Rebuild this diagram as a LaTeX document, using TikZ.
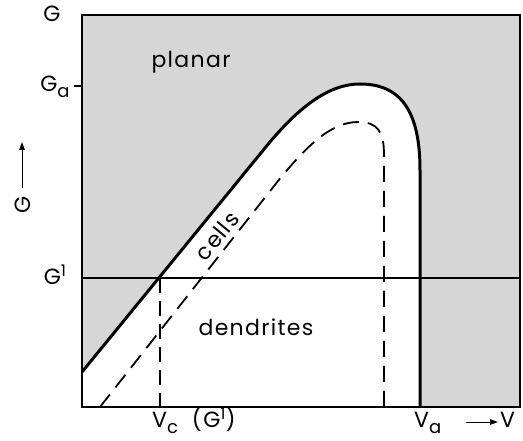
\documentclass[tikz,border=0pt]{standalone}
\usepackage{fontspec}
\setmainfont{Poppins}[LetterSpace=6]
\usetikzlibrary{arrows.meta}
\definecolor{bggray}{RGB}{214,214,214}
\newcommand{\lowsub}[1]{\raisebox{-0.25em}{\fontsize{18}{18}\selectfont #1}}
\newcommand{\highsup}[1]{\raisebox{0.4em}{\fontsize{16}{16}\selectfont #1}}
\begin{document}
\begin{tikzpicture}[x=1pt,y=-1pt,
  lbl/.style={font=\fontsize{22}{22}\selectfont, inner sep=0pt, anchor=base},
  boxline/.style={line width=1.6pt},
  gline/.style={line width=1.3pt},
  thickcurve/.style={line width=3pt, line join=round},
  dashcurve/.style={line width=1.8pt, dash pattern=on 16pt off 9pt},
  axarrow/.style={line width=1pt, -{Triangle[length=8pt,width=5.5pt]}}]
\useasboundingbox (0,0) rectangle (523,441);
\coordinate (TL) at (82,15);
\coordinate (BR) at (520,407);
\coordinate (BL) at (82,407);
\coordinate (G1L) at (82,278);
\coordinate (G1R) at (520,278);
\coordinate (S0) at (82,372);
\coordinate (S1) at (265,148);
\coordinate (Speak) at (360,84);
\coordinate (S2) at (420,170);
\coordinate (S3) at (420,407);
\coordinate (D0) at (100,407);
\coordinate (D1) at (278,181);
\coordinate (Dpeak) at (358,122);
\coordinate (D2) at (384,155);
\coordinate (D3) at (384,407);
\coordinate (VcT) at (160,278);
\coordinate (VcB) at (160,407);
% background
\fill[bggray] (TL) rectangle (BR);
\fill[white] (S0) -- (S1) .. controls (300,105) and (330,84) .. (Speak)
  .. controls (400,84) and (420,110) .. (S2) -- (S3) -- (BL) -- cycle;
% G1 line
\draw[gline] (G1L) -- (G1R);
% frame
\draw[boxline] (TL) rectangle (BR);
% Ga tick
\coordinate (GaT) at (74,86);
\coordinate (GaE) at (82,86);
\draw[gline] (GaT) -- (GaE);
% curves
\draw[thickcurve] (S0) -- (S1) .. controls (300,105) and (330,84) .. (Speak)
  .. controls (400,84) and (420,110) .. (S2) -- (S3);
\draw[dashcurve] (D0) -- (D1) .. controls (305,148) and (330,122) .. (Dpeak)
  .. controls (378,122) and (384,132) .. (D2) -- (D3);
\draw[dashcurve, dash pattern=on 15pt off 8pt] (VcT) -- (VcB);
% labels
\node[lbl] (lG) at (52,22) {G};
\node[lbl] (lGa) at (55,92) {G\lowsub{a}};
\node[lbl] (lG1) at (55,285) {G\highsup{1}};
\node[lbl, rotate=90, anchor=center] (lGy) at (23,205) {G};
\coordinate (ayS) at (22,188);
\coordinate (ayE) at (22,142);
\draw[axarrow] (ayS) -- (ayE);
\node[lbl] (planar) at (191,68) {planar};
\node[lbl, rotate=50.5, anchor=center] (cells) at (217,236) {cells};
\node[lbl] (dend) at (256,335) {dendrites};
\node[lbl, anchor=base west] (lVc) at (152,428) {V\lowsub{c}\hspace{14pt}(G\highsup{1})};
\node[lbl, anchor=base west] (lVa) at (414,428) {V\lowsub{a}};
\node[lbl, anchor=base west] (lV) at (500,428) {V};
\coordinate (axS) at (466,422);
\coordinate (axE) at (498,422);
\draw[axarrow] (axS) -- (axE);
\end{tikzpicture}
\end{document}
